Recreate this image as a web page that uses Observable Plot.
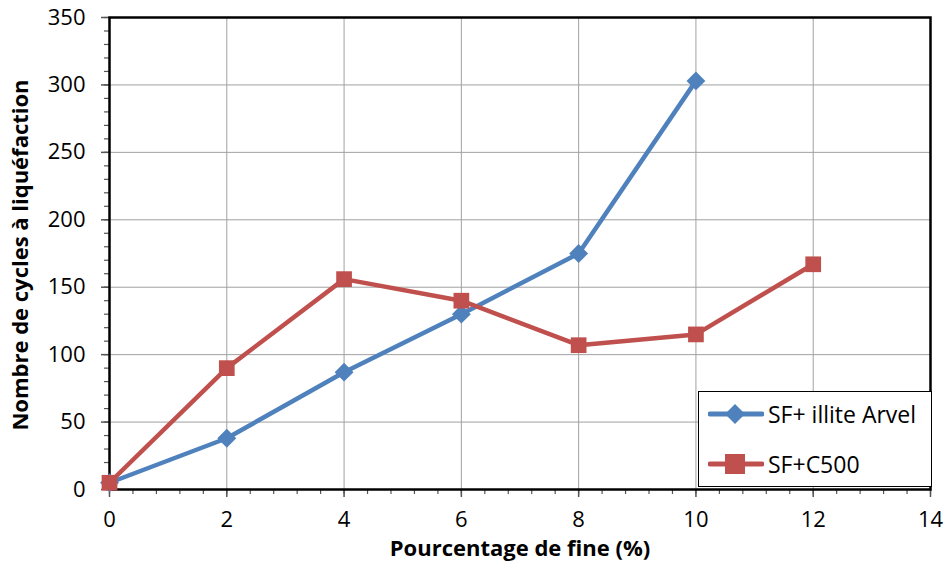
<!DOCTYPE html>
<html><head><meta charset="utf-8">
<script src="https://cdn.jsdelivr.net/npm/d3@7"></script>
<script src="https://cdn.jsdelivr.net/npm/@observablehq/plot@0.6"></script>
<style>
body{margin:0;background:#fff;font-family:"Open Sans",Calibri,sans-serif}
#wrap{position:relative;width:948px;height:563px}
#legend{position:absolute;left:698px;top:391px;width:234px;height:96px;border:1.5px solid #000;background:#fff;box-sizing:border-box;font-family:"Open Sans",sans-serif;font-size:23px;color:#000}
.row{position:absolute;left:9px;display:flex;align-items:center;white-space:nowrap}
.row svg{margin-right:4px}
</style></head><body><div id="wrap"><div id="legend"></div></div>
<script>
const fines = [0, 2, 4, 6, 8, 10, 12];
const illiteArvel = [5, 38, 87, 130, 175, 303];
const c500 = [5, 90, 156, 140, 107, 115, 167];
const seriesNames = ["SF+ illite Arvel", "SF+C500"];
const colors = ["#4F81BD", "#C0504D"];
const xTicks = [0, 2, 4, 6, 8, 10, 12, 14];
const yTicks = [0, 50, 100, 150, 200, 250, 300, 350];

const blue = illiteArvel.map((v, i) => ({x: fines[i], y: v}));
const red = c500.map((v, i) => ({x: fines[i], y: v}));
const xMinor = d3.range(0, 14.001, 0.4);
const yMinor = d3.range(0, 350.001, 10);

const chart = Plot.plot({
  width: 948, height: 563,
  marginLeft: 109, marginTop: 17, marginRight: 18, marginBottom: 74,
  x: {domain: [0, 14]},
  y: {domain: [0, 350]},
  style: {fontFamily: "'Open Sans', sans-serif", background: "#fff"},
  marks: [
    Plot.ruleY(yTicks.slice(1), {stroke: "#a0a0a0", strokeWidth: 1}),
    Plot.ruleX(xTicks.slice(1, -1), {stroke: "#a0a0a0", strokeWidth: 1}),
    Plot.axisX(xMinor, {tickSize: 5, text: null, label: null, stroke: "#555", strokeWidth: 1.2}),
    Plot.axisY(yMinor, {tickSize: 5, text: null, label: null, stroke: "#555", strokeWidth: 1.2}),
    Plot.axisX(xTicks, {tickSize: 8, tickPadding: 14, fontSize: 22, stroke: "#555", strokeWidth: 1.5, fill: "#000", label: null, tickFormat: d => d}),
    Plot.axisY(yTicks, {tickSize: 8, tickPadding: 16, fontSize: 22, stroke: "#555", strokeWidth: 1.5, fill: "#000", label: null, tickFormat: d => d}),
    Plot.frame({stroke: "#000", strokeWidth: 2.5}),
    Plot.line(blue, {x: "x", y: "y", stroke: colors[0], strokeWidth: 4.5}),
    Plot.line(red, {x: "x", y: "y", stroke: colors[1], strokeWidth: 4.5}),
    Plot.dot(blue, {x: "x", y: "y", symbol: "diamond2", r: 8.5, fill: colors[0], stroke: "none"}),
    Plot.dot(red, {x: "x", y: "y", symbol: "square2", r: 10, fill: colors[1], stroke: "none"})
  ]
});
const wrap = document.getElementById("wrap");
wrap.insertBefore(chart, wrap.firstChild);

// axis titles
const svg = d3.select(chart);
svg.append("text").attr("x", 520).attr("y", 556).attr("text-anchor", "middle")
  .attr("font-size", 22).attr("font-weight", "bold").attr("font-family", "'Open Sans', sans-serif")
  .text("Pourcentage de fine (%)");
svg.append("text").attr("transform", "translate(28,255) rotate(-90)").attr("text-anchor", "middle")
  .attr("font-size", 22).attr("font-weight", "bold").attr("font-family", "'Open Sans', sans-serif")
  .text("Nombre de cycles à liquéfaction");

// legend
const lg = document.getElementById("legend");
seriesNames.forEach((n, i) => {
  const row = document.createElement("div");
  row.className = "row";
  row.style.top = (i === 0 ? 6 : 56) + "px";
  const sym = i === 0
    ? `<polygon points="27,4 37,14 27,24 17,14" fill="${colors[0]}"/>`
    : `<rect x="17" y="4" width="20" height="20" fill="${colors[1]}"/>`;
  row.innerHTML = `<svg width="56" height="28"><line x1="2" y1="14" x2="54" y2="14" stroke="${colors[i]}" stroke-width="5" stroke-linecap="round"/>${sym}</svg><span>${n}</span>`;
  lg.appendChild(row);
});
</script></body></html>
